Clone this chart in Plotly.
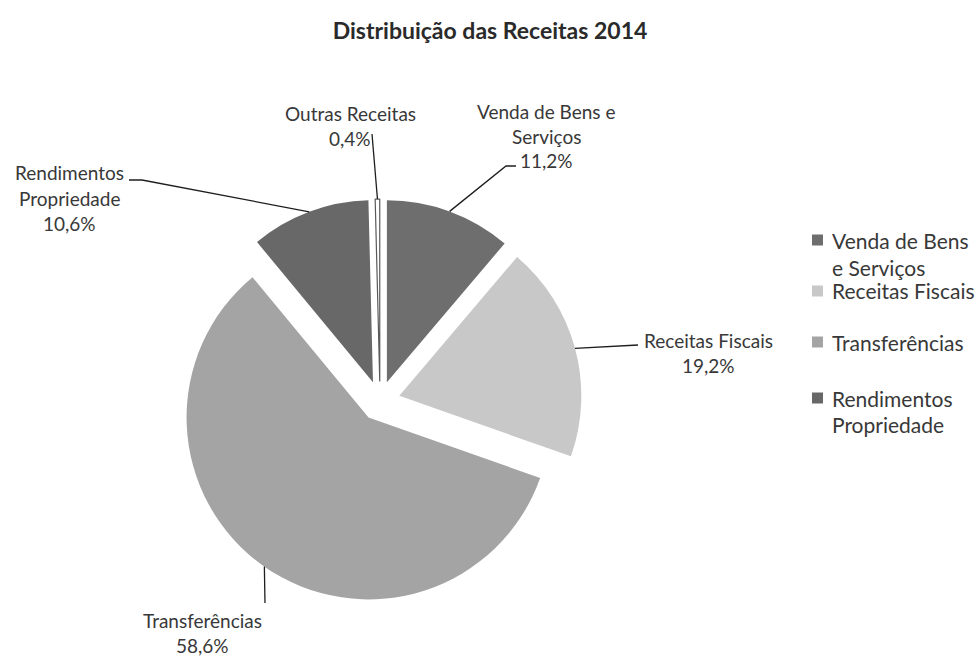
import math
import plotly.graph_objects as go

# Revenue distribution, 2014 (percent of total)
categories = [
    "Venda de Bens e Serviços",
    "Receitas Fiscais",
    "Transferências",
    "Rendimentos Propriedade",
    "Outras Receitas",
]
shares = [11.2, 19.2, 58.6, 10.6, 0.4]

# Wrapped text used for the outside data labels and for the legend
label_lines = [
    ["Venda de Bens e", "Serviços"],
    ["Receitas Fiscais"],
    ["Transferências"],
    ["Rendimentos", "Propriedade"],
    ["Outras Receitas"],
]
legend_lines = [
    ["Venda de Bens", "e Serviços"],
    ["Receitas Fiscais"],
    ["Transferências"],
    ["Rendimentos", "Propriedade"],
]

slice_colors = ["#6e6e6e", "#c8c8c8", "#a4a4a4", "#686868", "#ffffff"]
edge_colors = ["#6e6e6e", "#c8c8c8", "#a4a4a4", "#686868", "#5a5a5a"]
edge_widths = [0, 0, 0, 0, 1.2]
pull = 0.11

W, H = 980, 659
FONT = "Lato, 'Open Sans', sans-serif"
TEXT = "#383838"

# Pie box in page pixels
box_x0, box_x1 = 178, 582
box_y0, box_y1 = 199, 603
cx = (box_x0 + box_x1) / 2
cy = (box_y0 + box_y1) / 2
radius = (box_x1 - box_x0) / 2 / (1 + pull)


def px(x):
    return x / W


def py(y):
    return 1 - y / H


fig = go.Figure(
    go.Pie(
        labels=categories,
        values=shares,
        sort=False,
        direction="clockwise",
        rotation=0,
        pull=pull,
        marker=dict(colors=slice_colors, line=dict(color=edge_colors, width=edge_widths)),
        textinfo="none",
        hoverinfo="label+percent",
        showlegend=False,
        domain=dict(x=[px(box_x0), px(box_x1)], y=[py(box_y1), py(box_y0)]),
    )
)

# Point on the outer arc of each (pulled) slice at its mid-angle
total = sum(shares)
arc_points = []
cum = 0.0
for v in shares:
    theta = 2 * math.pi * (cum + v / 2) / total
    rr = radius * (1 + pull)
    arc_points.append((cx + rr * math.sin(theta), cy - rr * math.cos(theta)))
    cum += v

# Label placement: centre x, first line y, and the leader-line start (pixels)
label_pos = [
    (546, 111, [(516, 166), (506, 166)]),
    (708, 340, [(638, 345)]),
    (202, 620, [(265, 603)]),
    (69, 173, [(129, 180), (142, 180)]),
    (350, 113, [(372, 134)]),
]
line_gap = 25

annotations = []
shapes = []
for i, (lines, v) in enumerate(zip(label_lines, shares)):
    x0, y0, lead = label_pos[i]
    pct = f"{v:.1f}".replace(".", ",") + "%"
    for k, t in enumerate(lines + [pct]):
        annotations.append(dict(
            x=px(x0), y=py(y0 + k * line_gap), xref="paper", yref="paper",
            text=t, showarrow=False, xanchor="center", yanchor="middle",
            font=dict(family=FONT, size=19, color=TEXT),
        ))
    pts = lead + [arc_points[i]]
    path = "M " + " L ".join(f"{px(a):.5f},{py(b):.5f}" for a, b in pts)
    shapes.append(dict(type="path", path=path, xref="paper", yref="paper",
                       line=dict(color="#1e1e1e", width=1.3)))

# Legend
legend_y = [240, 291, 342, 398]
for lines, c, y0 in zip(legend_lines, slice_colors, legend_y):
    shapes.append(dict(type="rect", xref="paper", yref="paper",
                       x0=px(812), x1=px(823), y0=py(y0 + 5.5), y1=py(y0 - 5.5),
                       fillcolor=c, line=dict(width=0)))
    for k, t in enumerate(lines):
        annotations.append(dict(
            x=px(830), y=py(y0 + k * 27), xref="paper", yref="paper",
            text=t, showarrow=False, xanchor="left", yanchor="middle",
            font=dict(family=FONT, size=21, color=TEXT),
        ))

fig.update_layout(
    width=W, height=H,
    margin=dict(l=0, r=0, t=0, b=0),
    paper_bgcolor="white",
    plot_bgcolor="white",
    title=dict(text="<b>Distribuição das Receitas 2014</b>", x=0.5, xanchor="center",
               y=py(31), yanchor="middle", font=dict(family=FONT, size=23, color="#2a2a2a")),
    annotations=annotations,
    shapes=shapes,
)

fig.write_html("out.html")
